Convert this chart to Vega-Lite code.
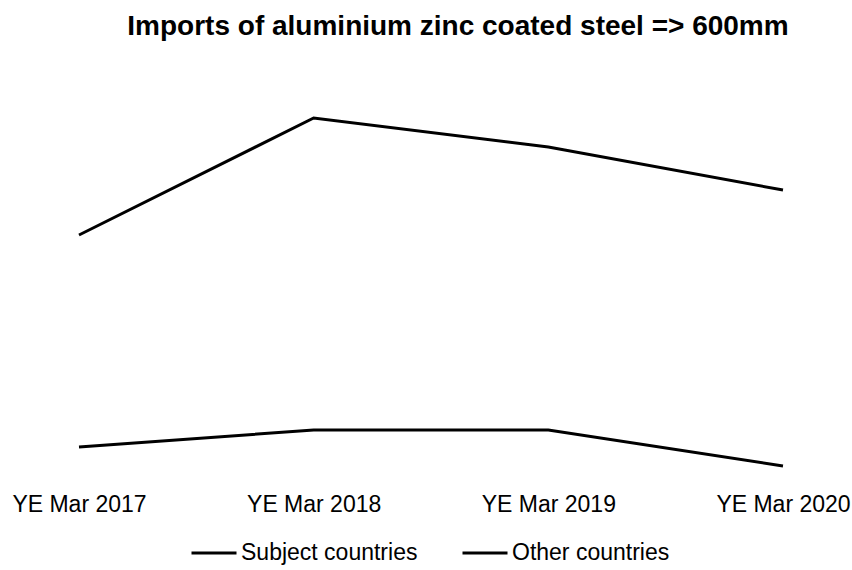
{
  "$schema": "https://vega.github.io/schema/vega-lite/v6.json",
  "width": 704,
  "height": 400,
  "autosize": {"type": "none"},
  "padding": {"left": 79, "top": 80, "right": 69, "bottom": 90},
  "background": "white",
  "title": {
    "text": "Imports of aluminium zinc coated steel => 600mm",
    "font": "Liberation Sans",
    "fontSize": 28,
    "fontWeight": "bold",
    "color": "black",
    "anchor": "middle",
    "dx": 27,
    "offset": 39
  },
  "data": {
    "values": [
      {"year": "YE Mar 2017", "series": "Subject countries", "value": 61.25},
      {"year": "YE Mar 2018", "series": "Subject countries", "value": 90.5},
      {"year": "YE Mar 2019", "series": "Subject countries", "value": 83.25},
      {"year": "YE Mar 2020", "series": "Subject countries", "value": 72.5},
      {"year": "YE Mar 2017", "series": "Other countries", "value": 8.25},
      {"year": "YE Mar 2018", "series": "Other countries", "value": 12.5},
      {"year": "YE Mar 2019", "series": "Other countries", "value": 12.5},
      {"year": "YE Mar 2020", "series": "Other countries", "value": 3.5}
    ]
  },
  "mark": {"type": "line", "strokeWidth": 3},
  "encoding": {
    "x": {
      "field": "year",
      "type": "ordinal",
      "sort": null,
      "scale": {"type": "point", "padding": 0},
      "axis": {
        "title": null,
        "domain": false,
        "ticks": false,
        "grid": false,
        "labelAngle": 0,
        "labelFont": "Liberation Sans",
        "labelFontSize": 23,
        "labelColor": "black",
        "labelPadding": 13
      }
    },
    "y": {
      "field": "value",
      "type": "quantitative",
      "scale": {"domain": [0, 100]},
      "axis": null
    },
    "color": {
      "field": "series",
      "type": "nominal",
      "sort": ["Subject countries", "Other countries"],
      "scale": {"range": ["black", "black"]},
      "legend": {
        "title": null,
        "orient": "none",
        "direction": "horizontal",
        "legendX": 111,
        "legendY": 449,
        "symbolType": "stroke",
        "symbolSize": 2025,
        "symbolStrokeWidth": 3,
        "labelFont": "Liberation Sans",
        "labelFontSize": 23,
        "labelColor": "black",
        "labelOffset": 3,
        "labelLimit": 400,
        "columnPadding": 38
      }
    }
  },
  "config": {"view": {"stroke": null}}
}
